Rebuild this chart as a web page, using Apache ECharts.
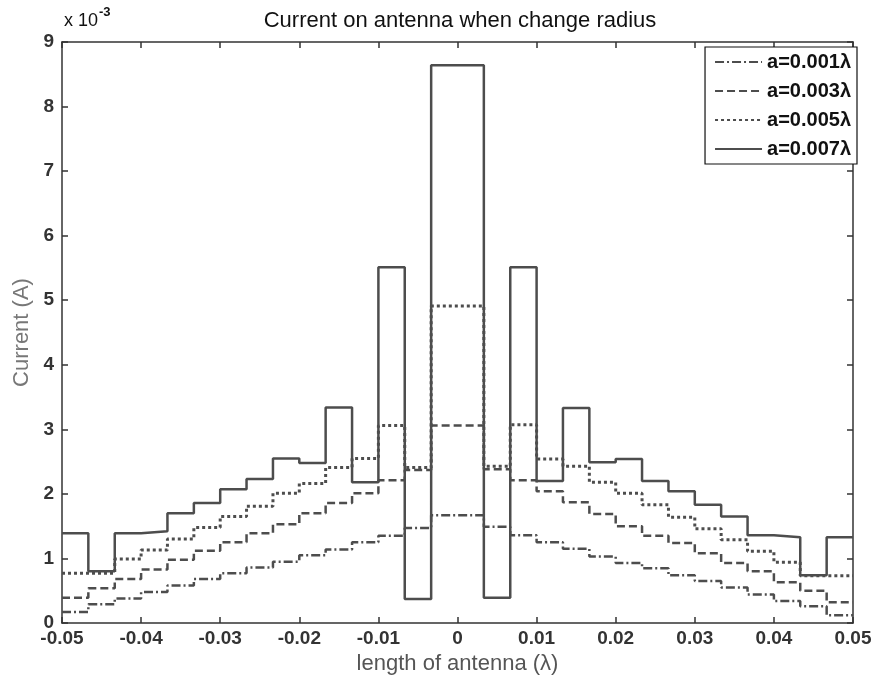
<!DOCTYPE html>
<html>
<head>
<meta charset="utf-8">
<script src="https://cdn.jsdelivr.net/npm/echarts@6/dist/echarts.min.js"></script>
<style>
  html, body { margin: 0; padding: 0; background: #fff; }
  #chart { width: 876px; height: 680px; }
</style>
</head>
<body>
<div id="chart"></div>
<script>
// segment edges along the antenna (in wavelengths)
const edges = [-0.05, -0.04667, -0.04333, -0.04, -0.03667, -0.03333, -0.03, -0.02667,
  -0.02333, -0.02, -0.01667, -0.01333, -0.01, -0.00667, -0.00333, 0,
  0.00333, 0.00667, 0.01, 0.01333, 0.01667, 0.02, 0.02333, 0.02667,
  0.03, 0.03333, 0.03667, 0.04, 0.04333, 0.04667, 0.05];

// current per segment, in units of 1e-3 A
const a001 = [0.17, 0.29, 0.38, 0.48, 0.58, 0.68, 0.77, 0.86, 0.95, 1.05, 1.14, 1.25, 1.35, 1.47, 1.67,
  1.67, 1.49, 1.36, 1.25, 1.15, 1.03, 0.93, 0.85, 0.74, 0.65, 0.55, 0.44, 0.34, 0.26, 0.12];
const a003 = [0.39, 0.54, 0.68, 0.83, 0.98, 1.12, 1.25, 1.39, 1.53, 1.70, 1.86, 2.01, 2.21, 2.37, 3.06,
  3.06, 2.38, 2.21, 2.04, 1.87, 1.69, 1.50, 1.35, 1.24, 1.08, 0.93, 0.80, 0.63, 0.50, 0.32];
const a005 = [0.77, 0.77, 0.99, 1.13, 1.30, 1.48, 1.65, 1.81, 2.01, 2.16, 2.41, 2.55, 3.06, 2.41, 4.91,
  4.91, 2.43, 3.07, 2.54, 2.43, 2.18, 2.01, 1.83, 1.64, 1.46, 1.29, 1.11, 0.94, 0.73, 0.73];
const a007 = [1.39, 0.80, 1.39, 1.42, 1.70, 1.86, 2.07, 2.23, 2.55, 2.48, 3.34, 2.18, 5.51, 0.37, 8.64,
  8.64, 0.39, 5.51, 2.20, 3.33, 2.49, 2.54, 2.20, 2.04, 1.83, 1.65, 1.36, 1.33, 0.74, 1.33];

const names = ['a=0.001λ', 'a=0.003λ', 'a=0.005λ', 'a=0.007λ'];
const dashes = [[9, 3, 2, 3], [8, 4], [3, 3], 'solid'];

// stairs: each value holds from its left edge to the next edge
function stairs(vals) {
  const pts = vals.map((v, i) => [edges[i], v]);
  pts.push([edges[edges.length - 1], vals[vals.length - 1]]);
  return pts;
}

const lineColor = '#4d4d4d';
const axisColor = '#333';
const font = 'Liberation Sans, Arial, sans-serif';

// MATLAB-like box: ticks inside, on all four sides
function boxAxis(extra) {
  return Object.assign({
    type: 'value',
    axisLine: { show: true, onZero: false, lineStyle: { color: axisColor, width: 1.5 } },
    axisTick: { show: true, inside: true, length: 6, lineStyle: { color: axisColor, width: 1.5 } },
    axisLabel: { show: false },
    splitLine: { show: false }
  }, extra);
}

const chart = echarts.init(document.getElementById('chart'));
chart.setOption({
  backgroundColor: '#fff',
  animation: false,
  title: {
    text: 'Current on antenna when change radius',
    left: 455, top: 5, textAlign: 'center',
    textStyle: { fontFamily: font, fontSize: 22, fontWeight: 'normal', color: '#111' }
  },
  graphic: [{
    type: 'text', left: 64, top: 6,
    style: {
      text: '{a|x 10}{b|-3}',
      rich: {
        a: { fontFamily: font, fontSize: 18, fill: '#111', padding: [10, 0, 0, 0] },
        b: { fontFamily: font, fontSize: 13, fill: '#111', fontWeight: 'bold', padding: [0, 0, 8, 1] }
      }
    }
  }],
  legend: {
    orient: 'vertical', right: 19, top: 47,
    itemWidth: 47, itemHeight: 14, itemGap: 9,
    padding: [5, 6, 5, 9],
    borderColor: '#111', borderWidth: 1.2, backgroundColor: '#fff',
    itemStyle: { opacity: 0 },
    textStyle: { fontFamily: font, fontSize: 20, fontWeight: 'bold', color: '#111' },
    data: names
  },
  grid: { left: 62, right: 23, top: 42, bottom: 57 },
  xAxis: [
    boxAxis({
      min: -0.05, max: 0.05, interval: 0.01,
      name: 'length of antenna (λ)', nameLocation: 'middle', nameGap: 27,
      nameTextStyle: { fontFamily: font, fontSize: 22, color: '#555' },
      axisLabel: {
        show: true, fontFamily: font, fontSize: 19, fontWeight: 'bold', color: '#333', margin: 6,
        formatter: v => Math.abs(v) < 1e-9 ? '0' : String(+v.toFixed(2))
      }
    }),
    boxAxis({ position: 'top', min: -0.05, max: 0.05, interval: 0.01 })
  ],
  yAxis: [
    boxAxis({
      min: 0, max: 9, interval: 1,
      name: 'Current (A)', nameLocation: 'middle', nameGap: 29,
      nameTextStyle: { fontFamily: font, fontSize: 22, color: '#777' },
      axisLabel: { show: true, fontFamily: font, fontSize: 19, fontWeight: 'bold', color: '#333', margin: 8 }
    }),
    boxAxis({ position: 'right', min: 0, max: 9, interval: 1 })
  ],
  series: [a001, a003, a005, a007].map((vals, i) => ({
    name: names[i],
    type: 'line',
    step: 'end',
    showSymbol: false,
    symbol: 'none',
    data: stairs(vals),
    lineStyle: { color: lineColor, width: i === 2 ? 3 : 2.5, type: dashes[i] },
    itemStyle: { color: lineColor },
    z: 2 + i
  }))
});
</script>
</body>
</html>
